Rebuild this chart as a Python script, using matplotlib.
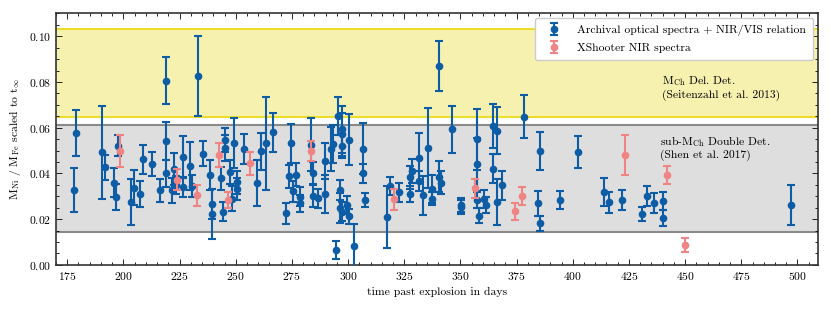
import matplotlib
matplotlib.use("Agg")
import matplotlib.pyplot as plt
from matplotlib.ticker import MultipleLocator

# archival optical spectra + NIR/VIS relation: (day, ratio, error)
arch_days = [177.8, 178.8, 190.6, 191.7, 195.7, 196.7, 197.7, 203.5, 204.6, 207.5,
             208.6, 212.6, 216.4, 218.9, 218.9, 218.9, 221.5, 222.6, 223.6, 226.5,
             226.5, 229.6, 230.5, 233.4, 235.3, 238.5, 239.5, 239.5, 243.4, 244.4,
             245.4, 245.4, 247.4, 248.4, 249.4, 250.4, 250.4, 253.5, 259.4, 261.4,
             263.4, 266.4, 272.5, 273.6, 274.6, 275.6, 276.6, 278.5, 278.5, 283.4,
             284.4, 284.4, 286.6, 289.6, 289.6, 292.5, 293.5, 294.5, 295.5, 296.5,
             296.5, 297.5, 297.5, 297.5, 297.5, 299.5, 300.6, 300.6, 302.6, 306.6,
             306.6, 307.6, 317.5, 318.5, 322.5, 327.4, 327.4, 328.4, 331.4, 331.4,
             333.4, 335.4, 337.4, 337.4, 340.3, 340.3, 341.4, 346.4, 350.3, 350.4,
             357.3, 357.3, 357.3, 358.3, 360.4, 361.4, 364.3, 364.3, 366.4, 366.4,
             368.4, 378.2, 384.5, 385.3, 385.3, 394.3, 402.3, 414.1, 416.1, 422.1,
             431.0, 432.9, 436.0, 440.0, 440.0, 496.9]
arch_ratio = [0.0328, 0.0578, 0.0492, 0.0427, 0.0359, 0.0297, 0.0521, 0.0276, 0.0338, 0.0310,
              0.0461, 0.0441, 0.0327, 0.0805, 0.0542, 0.0400, 0.0327, 0.0421, 0.0350, 0.0472,
              0.0341, 0.0434, 0.0345, 0.0827, 0.0487, 0.0393, 0.0266, 0.0224, 0.0378, 0.0233,
              0.0545, 0.0510, 0.0407, 0.0289, 0.0534, 0.0362, 0.0332, 0.0508, 0.0357, 0.0496,
              0.0531, 0.0580, 0.0226, 0.0388, 0.0531, 0.0322, 0.0394, 0.0298, 0.0269, 0.0526,
              0.0402, 0.0300, 0.0291, 0.0455, 0.0310, 0.0507, 0.0528, 0.0066, 0.0651, 0.0328,
              0.0248, 0.0593, 0.0571, 0.0518, 0.0233, 0.0262, 0.0548, 0.0213, 0.0084, 0.0509,
              0.0401, 0.0284, 0.0211, 0.0346, 0.0318, 0.0383, 0.0310, 0.0412, 0.0468, 0.0367,
              0.0304, 0.0510, 0.0331, 0.0290, 0.0870, 0.0386, 0.0359, 0.0593, 0.0261, 0.0254,
              0.0549, 0.0440, 0.0284, 0.0216, 0.0287, 0.0262, 0.0607, 0.0421, 0.0587, 0.0274,
              0.0348, 0.0648, 0.0269, 0.0497, 0.0182, 0.0284, 0.0493, 0.0320, 0.0275, 0.0284,
              0.0224, 0.0303, 0.0269, 0.0279, 0.0204, 0.0262]
arch_err = [0.0097, 0.0100, 0.0205, 0.0055, 0.0063, 0.0055, 0.0045, 0.0100, 0.0075, 0.0055,
            0.0063, 0.0054, 0.0050, 0.0103, 0.0084, 0.0060, 0.0055, 0.0070, 0.0040, 0.0090,
            0.0045, 0.0105, 0.0048, 0.0174, 0.0055, 0.0065, 0.0064, 0.0110, 0.0050, 0.0040,
            0.0053, 0.0056, 0.0053, 0.0055, 0.0110, 0.0050, 0.0050, 0.0066, 0.0100, 0.0080,
            0.0205, 0.0085, 0.0045, 0.0050, 0.0087, 0.0047, 0.0050, 0.0042, 0.0037, 0.0115,
            0.0050, 0.0048, 0.0040, 0.0080, 0.0085, 0.0098, 0.0084, 0.0040, 0.0084, 0.0044,
            0.0065, 0.0103, 0.0095, 0.0050, 0.0040, 0.0040, 0.0110, 0.0033, 0.0095, 0.0110,
            0.0042, 0.0031, 0.0135, 0.0040, 0.0042, 0.0050, 0.0036, 0.0053, 0.0110, 0.0044,
            0.0085, 0.0175, 0.0062, 0.0030, 0.0111, 0.0069, 0.0050, 0.0103, 0.0030, 0.0030,
            0.0135, 0.0115, 0.0035, 0.0033, 0.0040, 0.0036, 0.0096, 0.0064, 0.0102, 0.0100,
            0.0063, 0.0095, 0.0053, 0.0084, 0.0032, 0.0038, 0.0071, 0.0062, 0.0046, 0.0045,
            0.0030, 0.0044, 0.0044, 0.0040, 0.0035, 0.0087]

# XShooter NIR spectra
xs_days = [198.6, 223.8, 232.6, 242.4, 246.5, 256.5, 283.4, 320.4, 356.3, 374.2,
           377.4, 423.1, 442.0, 449.8]
xs_ratio = [0.0498, 0.0373, 0.0304, 0.0480, 0.0284, 0.0444, 0.0500, 0.0287, 0.0335, 0.0234,
            0.0302, 0.0480, 0.0393, 0.0087]
xs_err = [0.0070, 0.0045, 0.0047, 0.0052, 0.0035, 0.0049, 0.0044, 0.0046, 0.0042, 0.0038,
          0.0038, 0.0087, 0.0038, 0.0032]

# model ranges
mch_range = (0.0645, 0.1032)
subch_range = (0.0145, 0.0613)

plt.rcParams["font.family"] = "cmr10"
plt.rcParams["mathtext.fontset"] = "cm"
plt.rcParams["axes.formatter.use_mathtext"] = True
plt.rcParams["font.size"] = 8.4

fig = plt.figure(figsize=(8.31, 3.12), dpi=100)
ax = fig.add_axes([0.0674, 0.151, 0.9166, 0.806])

ax.axhspan(*mch_range, color="#f7f1b0", lw=0, zorder=0)
ax.axhspan(*subch_range, color="#dedede", lw=0, zorder=0)
for y in mch_range:
    ax.axhline(y, color="#ecdc2c", lw=1.5, zorder=1)
for y in subch_range:
    ax.axhline(y, color="#8a8a8a", lw=1.5, zorder=1)

ax.errorbar(arch_days, arch_ratio, yerr=arch_err, fmt="o", color="#0C5DA5", ms=4.5,
            elinewidth=1.5, capsize=3, capthick=1.5, zorder=3,
            label="Archival optical spectra + NIR/VIS relation")
ax.errorbar(xs_days, xs_ratio, yerr=xs_err, fmt="o", color="#f08383", ms=4.5,
            elinewidth=1.5, capsize=3, capthick=1.5, zorder=4,
            label="XShooter NIR spectra")

ax.text(439.5, 0.0775, "M$_{\\rm Ch}$ Del. Det.\n(Seitenzahl et al. 2013)",
        va="center", ha="left", linespacing=1.15)
ax.text(439.0, 0.0514, "sub-M$_{\\rm Ch}$ Double Det.\n(Shen et al. 2017)",
        va="center", ha="left", linespacing=1.15)

ax.set_xlim(170, 509)
ax.set_ylim(0, 0.11)
ax.xaxis.set_major_locator(MultipleLocator(25))
ax.xaxis.set_minor_locator(MultipleLocator(5))
ax.yaxis.set_major_locator(MultipleLocator(0.02))
ax.yaxis.set_minor_locator(MultipleLocator(0.005))
ax.tick_params(which="both", direction="in", top=True, right=True)
ax.tick_params(which="major", length=4, width=0.6)
ax.tick_params(which="minor", length=2, width=0.6)
for s in ax.spines.values():
    s.set_linewidth(1.2)
    s.set_color("#333333")

ax.set_xlabel("time past explosion in days")
ax.set_ylabel("M$_{\\rm Ni}$ / M$_{\\rm Fe}$ scaled to t$_{\\infty}$")
ax.legend(loc="upper right", frameon=True, fancybox=True, framealpha=1.0,
          edgecolor="#cccccc", borderpad=0.6, labelspacing=0.6,
          handletextpad=1.0, borderaxespad=0.4)

fig.savefig("out.png", dpi=100)
